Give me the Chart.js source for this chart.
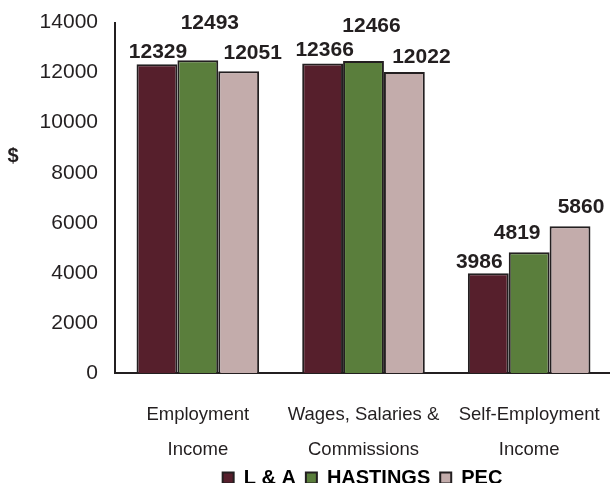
<!DOCTYPE html>
<html>
<head>
<meta charset="utf-8">
<script src="https://cdn.jsdelivr.net/npm/chart.js@4"></script>
<style>
  html, body { margin: 0; padding: 0; background: #fff; overflow: hidden; }
  #wrap { position: relative; width: 614px; height: 498px; }
</style>
</head>
<body>
<div id="wrap"><canvas id="chart"></canvas></div>
<script>
const categories = [['Employment', 'Income'], ['Wages, Salaries &', 'Commissions'], ['Self-Employment', 'Income']];
const seriesNames = ['L & A', 'HASTINGS', 'PEC'];
const laValues = [12329, 12366, 3986];
const hastingsValues = [12493, 12466, 4819];
const pecValues = [12051, 12022, 5860];
const yTicks = [0, 2000, 4000, 6000, 8000, 10000, 12000, 14000];

const ink = '#231f20';
const fills = ['#561f2c', '#5a7e3c', '#c3acab'];
const fontFamily = '"Liberation Sans", Arial, sans-serif';

// nudges for the value labels, so they don't sit on top of each other
const labelShift = [
  [[1, -12], [2, -13], [-9, -11]],
  [[12, -37], [8, -35], [-12, -19]],
  [[14, -18], [17, -15], [11, -19]]
];

const valueLabels = {
  id: 'valueLabels',
  afterLayout(chart) {
    // centre the legend under the plot area rather than the canvas
    const shift = (chart.chartArea.left + chart.chartArea.right) / 2 - chart.width / 2;
    chart.legend.left += shift;
    chart.legend.right += shift;
  },
  afterDatasetsDraw(chart) {
    const ctx = chart.ctx;
    ctx.save();
    ctx.font = 'bold 21px ' + fontFamily;
    ctx.fillStyle = ink;
    ctx.textAlign = 'center';
    ctx.textBaseline = 'middle';
    chart.data.datasets.forEach((ds, i) => {
      chart.getDatasetMeta(i).data.forEach((bar, j) => {
        const [dx, dy] = labelShift[i][j];
        ctx.fillText(String(ds.data[j]), bar.x + dx, bar.y + dy);
      });
    });
    // unit label on the left
    ctx.font = 'bold 20px ' + fontFamily;
    ctx.fillText('$', 13, 156);
    ctx.restore();
  }
};

const datasets = [laValues, hastingsValues, pecValues].map((vals, i) => ({
  label: seriesNames[i],
  data: vals,
  backgroundColor: fills[i],
  borderColor: ink,
  borderWidth: 2,
  borderSkipped: 'bottom',
  categoryPercentage: 0.74,
  barPercentage: 1.0
}));

new Chart(document.getElementById('chart'), {
  type: 'bar',
  data: { labels: categories, datasets },
  plugins: [valueLabels],
  options: {
    responsive: true,
    maintainAspectRatio: false,
    animation: false,
    layout: { padding: { top: 0, right: 2, left: 0, bottom: 0 } },
    scales: {
      x: {
        afterFit: axis => { axis.height = 85; axis.paddingLeft = 0; axis.paddingRight = 0; },
        grid: { display: false, drawTicks: false },
        border: { display: true, color: ink, width: 2 },
        ticks: {
          color: ink,
          padding: 24,
          maxRotation: 0,
          autoSkip: false,
          font: { family: fontFamily, size: 18.5, lineHeight: 1.9 }
        }
      },
      y: {
        min: 0,
        max: 14000,
        afterBuildTicks: axis => { axis.ticks = yTicks.map(v => ({ value: v })); },
        afterFit: axis => { axis.width = 115; axis.paddingTop = 22.5; axis.paddingBottom = 0; },
        grid: { display: false, drawTicks: false },
        border: { display: true, color: ink, width: 2 },
        ticks: {
          color: ink,
          padding: 17,
          callback: v => String(v),
          font: { family: fontFamily, size: 21 }
        }
      }
    },
    plugins: {
      legend: {
        position: 'bottom',
        labels: {
          color: ink,
          boxWidth: 11,
          boxHeight: 11,
          padding: 10,
          font: { family: fontFamily, size: 20, weight: 'bold' },
          generateLabels: chart => chart.data.datasets.map((ds, i) => ({
            text: ds.label,
            fillStyle: ds.backgroundColor,
            strokeStyle: ink,
            lineWidth: 2,
            datasetIndex: i
          }))
        }
      },
      tooltip: { enabled: false }
    }
  }
});
</script>
</body>
</html>
